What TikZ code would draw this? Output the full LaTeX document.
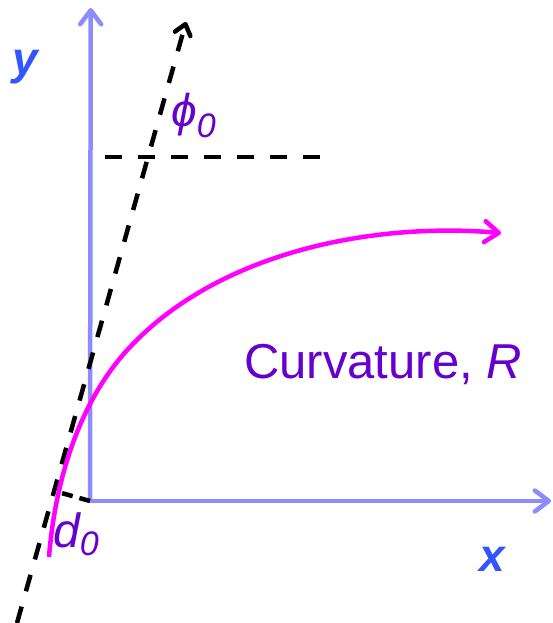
\documentclass[tikz,border=0pt]{standalone}
\usepackage{fontspec}
\setmainfont{Liberation Sans}
\usetikzlibrary{arrows.meta,calc}
\definecolor{axisblue}{RGB}{140,140,255}
\definecolor{lblblue}{RGB}{51,85,255}
\definecolor{purp}{RGB}{102,0,204}
\definecolor{mag}{RGB}{255,0,255}
\begin{document}
\begin{tikzpicture}[x=1pt,y=-1pt,
  axisline/.style={draw=axisblue,line width=4.5pt,-{Straight Barb[round,length=14pt,width=21pt]}},
  guideline/.style={draw=black,line width=4.5pt,dash pattern=on 17pt off 16pt},
  perpline/.style={draw=black,line width=4.5pt,dash pattern=on 11pt off 7pt},
  trackline/.style={draw=mag,line width=4.5pt,-{Straight Barb[round,length=14pt,width=21pt]}},
  axislabel/.style={text=lblblue,inner sep=0pt,font=\fontsize{46}{46}\selectfont\bfseries\itshape},
  purplabel/.style={text=purp,inner sep=0pt,anchor=base west},
]
\useasboundingbox (0,0) rectangle (553,623);
% axes
\coordinate (O) at (90,501);
\coordinate (ytip) at (90.7,8);
\coordinate (xtip) at (551,501);
\draw[axisline] (O) -- (ytip);
\draw[axisline] (O) -- (xtip);
% slanted dashed tangent line
\coordinate (gstart) at (17,623);
\coordinate (gtip) at (186,22);
\draw[guideline,-{Straight Barb[round,length=10pt,width=16pt]}] (gstart) -- (gtip);
% horizontal dashed reference
\coordinate (hA) at (105,157);
\coordinate (hB) at (327,157);
\draw[guideline] (hA) -- (hB);
% perpendicular
\coordinate (foot) at ($(gstart)!(O)!(gtip)$);
\draw[perpline] (O) -- (foot);
% track
\coordinate (tA) at (49,557);
\coordinate (tB) at (130,347);
\coordinate (tC) at (501,233);
\draw[trackline] (tA) .. controls (55,482) and (78.5,401.6) .. (tB)
  .. controls (219,252.4) and (371.5,222) .. (tC);
% labels
\node[axislabel] (ylab) at (25,67.5) {y};
\node[axislabel] (xlab) at (492.5,559) {x};
\node[purplabel,font=\fontsize{49}{49}\selectfont] (curv) at (244,378) {Curvature, \textit{R}};
\node[purplabel,font=\fontsize{46}{46}\selectfont\itshape] (phi) at (171,127) {ϕ\raisebox{-10pt}{\fontsize{34}{34}\selectfont 0}};
\node[purplabel,font=\fontsize{48}{48}\selectfont\itshape] (dlab) at (53,547) {d\raisebox{-8pt}{\fontsize{34}{34}\selectfont 0}};
\end{tikzpicture}
\end{document}
